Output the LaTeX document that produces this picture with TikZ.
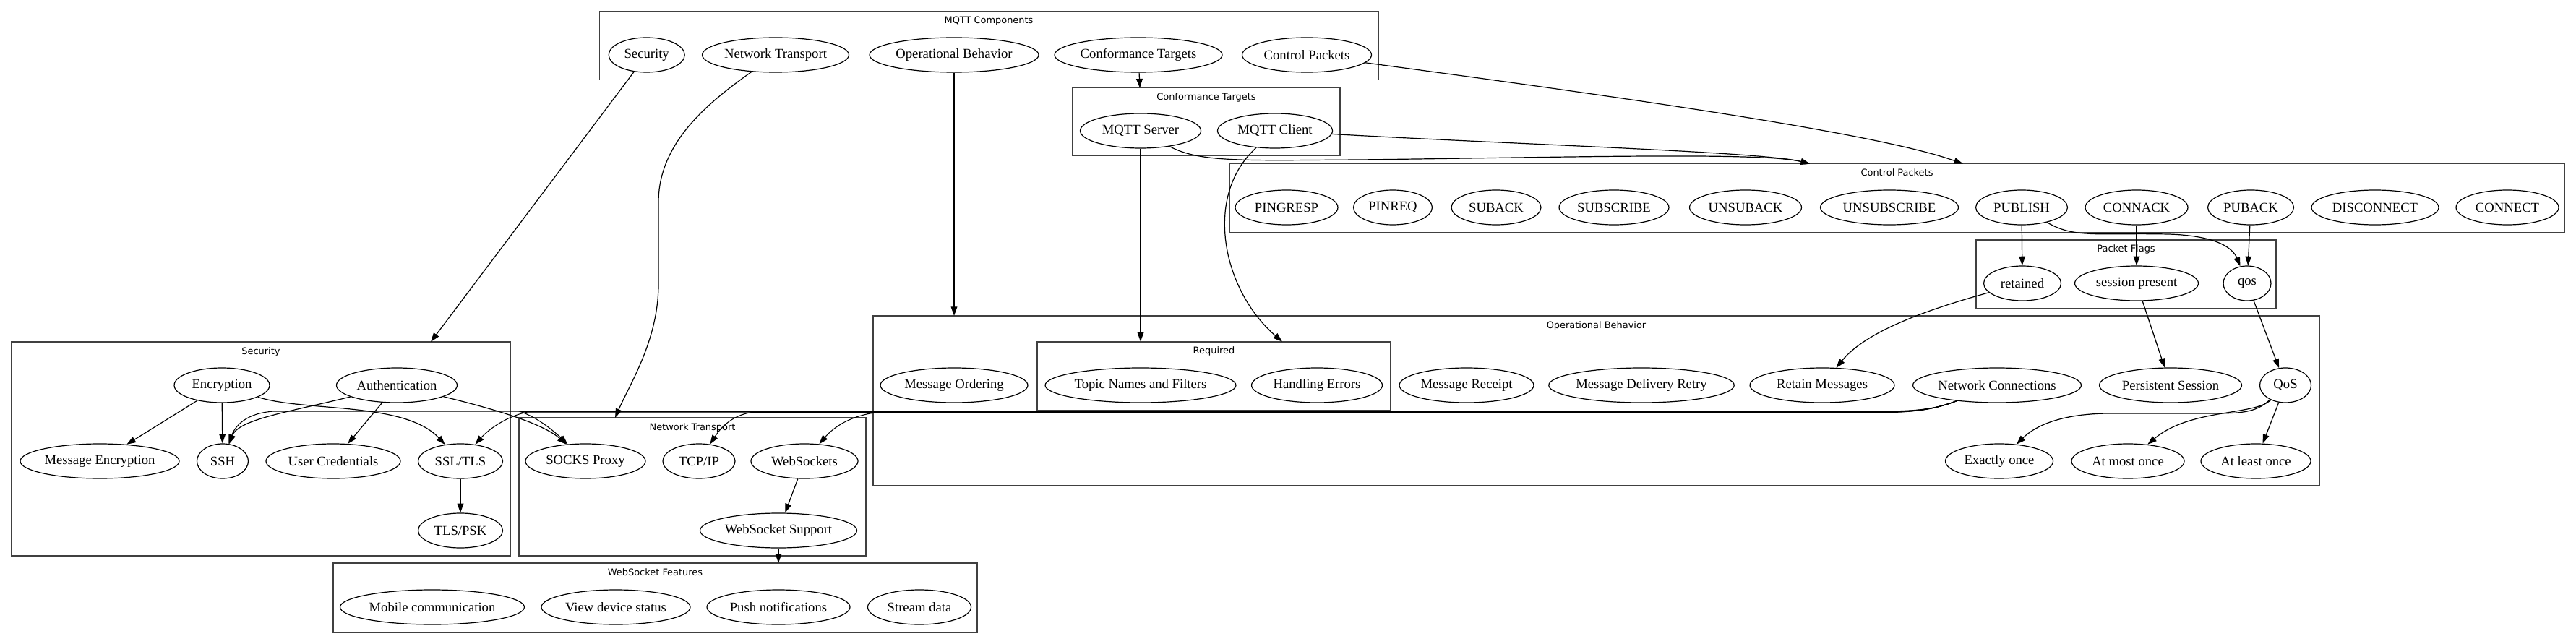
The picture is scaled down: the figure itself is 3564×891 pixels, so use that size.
\documentclass[tikz,border=0pt]{standalone}
\usepackage{fontspec}
\setmainfont{Liberation Serif}
\newfontfamily\clusterfont{DejaVu Sans}
\usetikzlibrary{arrows.meta,fit,shapes.geometric}
\begin{document}
\begin{tikzpicture}[x=0.75pt,y=-0.75pt,
 nd/.style={draw,ellipse,line width=0.9pt,inner xsep=0pt,inner ysep=0pt,minimum height=36pt,font=\fontsize{14pt}{16pt}\selectfont},
 ew/.style={minimum width=#1*0.75pt},
 cl/.style={draw=black!75,line width=1.2pt,inner sep=0pt},
 cll/.style={font=\clusterfont\fontsize{9.7pt}{11pt}\selectfont,inner sep=0pt,anchor=base},
 ed/.style={draw,line width=0.9pt,-{Triangle[length=9.5pt,width=6.5pt]}},
 bd/.style={draw,line width=0.8pt,-{Triangle[length=9.5pt,width=6.5pt]}}]
\useasboundingbox (0,0) rectangle (3564,891);
\fill[white] (0,0) rectangle (3564,891);

% clusters
\node[cl,fit={(829.5,15.7) (1907,110.7)}] (cMain) {};
\node[cl,fit={(1484,121.7) (1854,215.7)}] (cConf) {};
\node[cl,fit={(1701,226.7) (3548,321.7)}] (cCtrl) {};
\node[cl,fit={(2734,331.7) (3149,426.7)}] (cFlags) {};
\node[cl,fit={(1208,437) (3209,672)}] (cOp) {};
\node[cl,fit={(1435,472.7) (1924,567.7)}] (cReq) {};
\node[cl,fit={(16,473) (706.5,769)}] (cSec) {};
\node[cl,fit={(718,578) (1198,769)}] (cNet) {};
\node[cl,fit={(461,779) (1352,875)}] (cWS) {};

\node[cll] (lMain) at (1368,32.7) {MQTT Components};
\node[cll] (lConf) at (1669,138.7) {Conformance Targets};
\node[cll] (lCtrl) at (2624.5,243.7) {Control Packets};
\node[cll] (lFlags) at (2941.5,348.7) {Packet Flags};
\node[cll] (lOp) at (2208.5,454) {Operational Behavior};
\node[cll] (lReq) at (1679.5,489.7) {Required};
\node[cll] (lSec) at (361,490) {Security};
\node[cll] (lNet) at (958,595) {Network Transport};
\node[cll] (lWS) at (906.5,796) {WebSocket Features};

% cluster entry points
\coordinate (inSec) at (596,473);
\coordinate (inNet) at (851,578);
\coordinate (inOp) at (1320,437);
\coordinate (inConf) at (1577,121.7);
\coordinate (inCtrlA) at (2716,226.7);
\coordinate (inCtrlB) at (2504,226.7);
\coordinate (inReqA) at (1578,472.7);
\coordinate (inReqB) at (1774,472.7);
\coordinate (inWSF) at (1077,779);

% main nodes
\node[nd,ew=105] (mSec) at (894.7,76) {Security};
\node[nd,ew=203] (mNet) at (1073,76) {Network Transport};
\node[nd,ew=234] (mOp) at (1320,76) {Operational Behavior};
\node[nd,ew=232] (mConf) at (1575,76) {Conformance Targets};
\node[nd,ew=179] (mCtrl) at (1808,76) {Control Packets};

\node[nd,ew=167] (server) at (1578,181) {MQTT Server};
\node[nd,ew=159] (client) at (1764,181) {MQTT Client};

\node[nd,ew=142] (pingresp) at (1780,287) {PINGRESP};
\node[nd,ew=109] (pingreq) at (1927,287) {PINREQ};
\node[nd,ew=124] (suback) at (2070,287) {SUBACK};
\node[nd,ew=152] (subscribe) at (2233,287) {SUBSCRIBE};
\node[nd,ew=155] (unsuback) at (2415,287) {UNSUBACK};
\node[nd,ew=191] (unsubscribe) at (2614,287) {UNSUBSCRIBE};
\node[nd,ew=127] (publish) at (2797,287) {PUBLISH};
\node[nd,ew=142] (connack) at (2956,287) {CONNACK};
\node[nd,ew=119] (puback) at (3114,287) {PUBACK};
\node[nd,ew=176] (disconnect) at (3286,287) {DISCONNECT};
\node[nd,ew=142] (connect) at (3469,287) {CONNECT};

\node[nd,ew=107] (retained) at (2798,392) {retained};
\node[nd,ew=171] (session) at (2956,392) {session present};
\node[nd,ew=66] (qos) at (3109,392) {qos};

\node[nd,ew=204] (ordering) at (1320,533) {Message Ordering};
\node[nd,ew=264] (topic) at (1578,533) {Topic Names and Filters};
\node[nd,ew=181] (errors) at (1822,533) {Handling Errors};
\node[nd,ew=186] (receipt) at (2029,533) {Message Receipt};
\node[nd,ew=241] (retry) at (2271,533) {Message Delivery Retry};
\node[nd,ew=200] (retain) at (2521,533) {Retain Messages};
\node[nd,ew=233] (nc) at (2763,533) {Network Connections};
\node[nd,ew=197] (persist) at (3003,533) {Persistent Session};
\node[nd,ew=71] (QoS) at (3162,533) {QoS};
\node[nd,ew=149] (exactly) at (2766,638) {Exactly once};
\node[nd,ew=156] (atmost) at (2944,638) {At most once};
\node[nd,ew=152] (atleast) at (3121,638) {At least once};

\node[nd,ew=132] (enc) at (307,533) {Encryption};
\node[nd,ew=167] (auth) at (549,533) {Authentication};
\node[nd,ew=220] (menc) at (138,638) {Message Encryption};
\node[nd,ew=71] (ssh) at (308,638) {SSH};
\node[nd,ew=186] (ucred) at (461,638) {User Credentials};
\node[nd,ew=117] (ssl) at (637,638) {SSL/TLS};
\node[nd,ew=117] (tlspsk) at (637,734) {TLS/PSK};

\node[nd,ew=166] (socks) at (810,638) {SOCKS Proxy};
\node[nd,ew=100] (tcp) at (967,638) {TCP/IP};
\node[nd,ew=148] (ws) at (1113,638) {WebSockets};
\node[nd,ew=217] (wss) at (1077,734) {WebSocket Support};

\node[nd,ew=255] (mobile) at (598,840) {Mobile communication};
\node[nd,ew=206] (view) at (852,840) {View device status};
\node[nd,ew=198] (push) at (1077,840) {Push notifications};
\node[nd,ew=143] (stream) at (1272,840) {Stream data};

% edges from MQTT Components
\draw[ed] (mSec) -- (inSec);
\draw[ed] (mNet) .. controls (975,145) and (911,200) .. (911,280) -- (911,393) .. controls (911,470) and (872,530) .. (inNet);
\draw[ed] (mOp) -- (inOp);
\draw[ed] (mConf) -- (inConf);
\draw[ed] (mCtrl) .. controls (2250,135) and (2600,185) .. (inCtrlA);

% conformance targets
\draw[ed] (server) .. controls (1660,225) and (1720,222) .. (1880,221) .. controls (2150,218) and (2440,210) .. (inCtrlB);
\draw[ed] (client) .. controls (2100,200) and (2440,210) .. (inCtrlB);
\draw[ed] (server) -- (inReqA);
\draw[ed] (client) .. controls (1665,270) and (1690,400) .. (inReqB);

% packets and flags
\draw[ed] (publish) -- (retained);
\draw[ed] (publish) .. controls (2870,330) and (2900,322) .. (3000,324) .. controls (3070,326) and (3090,345) .. (qos);
\draw[ed] (connack) -- (session);
\draw[ed] (puback) -- (qos);
\draw[ed] (retained) .. controls (2660,430) and (2580,460) .. (retain);
\draw[ed] (session) -- (persist);
\draw[ed] (qos) -- (QoS);

% QoS levels
\draw[ed] (QoS) .. controls (3120,572) and (3100,572) .. (3050,572) -- (2920,572) .. controls (2850,572) and (2815,590) .. (exactly);
\draw[ed] (QoS) .. controls (3120,575) and (3030,565) .. (atmost);
\draw[ed] (QoS) -- (atleast);

% network connections
\draw[bd] (nc) .. controls (2670,569) and (2640,569) .. (2580,569) -- (380,569) .. controls (340,571) and (325,590) .. (ssh);
\draw[bd] (nc) .. controls (2670,569) and (2640,569.5) .. (2580,569.5) -- (720,569.5) .. controls (745,578) and (768,598) .. (socks);
\draw[bd] (nc) .. controls (2670,569) and (2640,570) .. (2580,570) -- (730,570) .. controls (700,576) and (675,595) .. (ssl);
\draw[bd] (nc) .. controls (2670,569) and (2640,570.5) .. (2580,570.5) -- (1040,570.5) .. controls (1010,575) and (995,595) .. (tcp);
\draw[bd] (nc) .. controls (2670,569) and (2640,571) .. (2580,571) -- (1210,571) .. controls (1170,577) and (1150,595) .. (ws);

% security
\draw[ed] (enc) -- (menc);
\draw[ed] (enc) -- (ssh);
\draw[ed] (enc) .. controls (420,570) and (560,555) .. (ssl);
\draw[ed] (auth) .. controls (400,570) and (330,580) .. (ssh);
\draw[ed] (auth) -- (ucred);
\draw[ed] (auth) .. controls (680,565) and (750,585) .. (socks);
\draw[ed] (ssl) -- (tlspsk);

% network transport
\draw[ed] (ws) -- (wss);
\draw[ed] (wss) -- (inWSF);
\end{tikzpicture}
\end{document}
